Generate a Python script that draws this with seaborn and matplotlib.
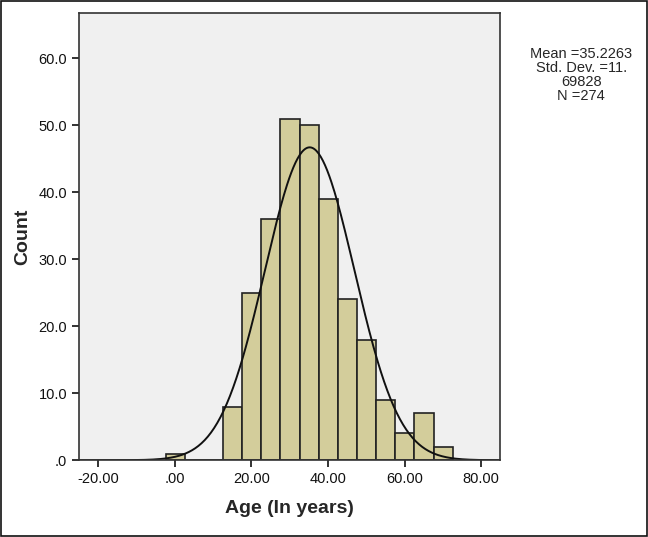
import matplotlib
matplotlib.use("Agg")
import matplotlib.pyplot as plt
import numpy as np
import pandas as pd
import seaborn as sns

# histogram of age (bin centres and counts)
bin_centres = [0.1, 15.1, 20.1, 25.1, 30.1, 35.1, 40.1, 45.1, 50.1, 55.1, 60.1, 65.1, 70.1]
counts = [1, 8, 25, 36, 51, 50, 39, 24, 18, 9, 4, 7, 2]
bin_width = 5.0

mean_age = 35.2263
sd_age = 11.69828
n_total = 274

x_ticks = [-20, 0, 20, 40, 60, 80]
x_labels = ["-20.00", ".00", "20.00", "40.00", "60.00", "80.00"]
y_ticks = [0, 10, 20, 30, 40, 50, 60]
y_labels = [".0", "10.0", "20.0", "30.0", "40.0", "50.0", "60.0"]

df = pd.DataFrame({"age": bin_centres, "count": counts})
lo = min(bin_centres) - bin_width / 2
hi = max(bin_centres) + bin_width / 2

sns.set_style("ticks")
plt.rcParams["font.family"] = ["Liberation Sans", "DejaVu Sans"]

fig = plt.figure(figsize=(6.48, 5.37), dpi=100)
ax = fig.add_axes([0.122, 0.143, 0.650, 0.833])
ax.set_facecolor("#f0f0f0")

sns.histplot(data=df, x="age", weights="count", binwidth=bin_width, binrange=(lo, hi), ax=ax,
             color="#d3cd9b", edgecolor="#222222", linewidth=1.2, alpha=1)

# fitted normal curve
xs = np.linspace(-25, 85, 400)
ys = n_total * bin_width * np.exp(-0.5 * ((xs - mean_age) / sd_age) ** 2) / (sd_age * np.sqrt(2 * np.pi))
sns.lineplot(x=xs, y=ys, ax=ax, color="#111111", linewidth=1.4)

ax.set_xlim(-25, 85)
ax.set_ylim(0, 66.8)
ax.set_xticks(x_ticks)
ax.set_xticklabels(x_labels)
ax.set_yticks(y_ticks)
ax.set_yticklabels(y_labels)
ax.tick_params(labelsize=10.5, length=5, width=1.2, colors="#111111")
for s in ax.spines.values():
    s.set_visible(True)
    s.set_color("#333333")
    s.set_linewidth(1.2)

ax.set_xlabel("Age (In years)", fontsize=14, fontweight="bold", labelpad=10)
ax.set_ylabel("Count", fontsize=14, fontweight="bold", labelpad=5)

fig.text(0.897, 0.86, "Mean =35.2263\nStd. Dev. =11.\n69828\nN =274",
         ha="center", va="center", fontsize=10.5, linespacing=1.0)

# outer frame
fig.patches.append(plt.Rectangle((0.001, 0.001), 0.998, 0.998, transform=fig.transFigure,
                                 fill=False, edgecolor="#111111", linewidth=1.2))

fig.savefig("out.png", dpi=100)
